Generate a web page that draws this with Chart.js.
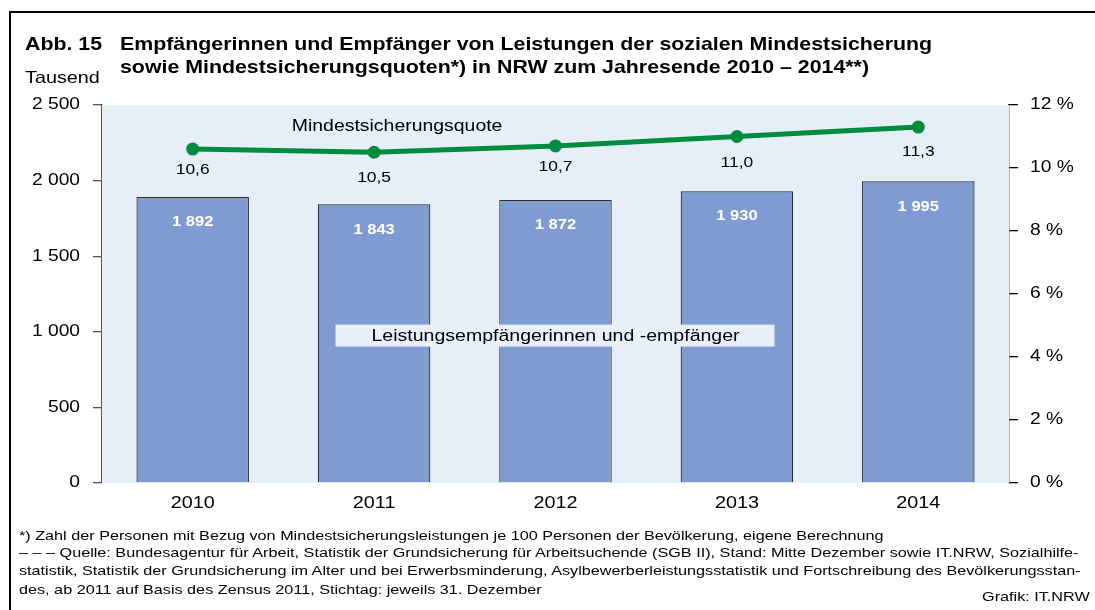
<!DOCTYPE html>
<html><head><meta charset="utf-8">
<script src="https://cdn.jsdelivr.net/npm/chart.js@4"></script>
<style>
html,body{margin:0;padding:0;background:#fff;}
#wrap{position:relative;width:1095px;height:610px;overflow:hidden;font-family:"Liberation Sans",Arial,sans-serif;color:#000;}
#frame{position:absolute;left:9px;top:11px;width:1100px;height:620px;border-left:2px solid #000;border-top:2px solid #000;}
#cv{position:absolute;left:0;top:0;}
.t{position:absolute;white-space:nowrap;transform:scaleX(1.2);transform-origin:0 50%;}
.title{font-weight:bold;font-size:17.8px;}
.foot{font-size:13.5px;line-height:16px;}
</style></head>
<body><div id="wrap">
<div id="frame"></div>
<canvas id="cv" width="1095" height="610"></canvas>
<div class="t title" style="left:25px;top:34px;">Abb. 15</div>
<div class="t title" style="left:120px;top:34px;">Empfängerinnen und Empfänger von Leistungen der sozialen Mindestsicherung</div>
<div class="t title" style="left:120px;top:57px;">sowie Mindestsicherungsquoten*) in NRW zum Jahresende 2010 – 2014**)</div>
<div class="t" style="left:25px;top:68px;font-size:16.5px;">Tausend</div>
<div class="t foot" style="left:19px;top:528px;">*) Zahl der Personen mit Bezug von Mindestsicherungsleistungen je 100 Personen der Bevölkerung, eigene Berechnung</div>
<div class="t foot" style="left:19px;top:545px;">– – – Quelle: Bundesagentur für Arbeit, Statistik der Grundsicherung für Arbeitsuchende (SGB II), Stand: Mitte Dezember sowie IT.NRW, Sozialhilfe-</div>
<div class="t foot" style="left:19px;top:563px;">statistik, Statistik der Grundsicherung im Alter und bei Erwerbsminderung, Asylbewerberleistungsstatistik und Fortschreibung des Bevölkerungsstan-</div>
<div class="t foot" style="left:19px;top:582px;">des, ab 2011 auf Basis des Zensus 2011, Stichtag: jeweils 31. Dezember</div>
<div class="t foot" style="right:5px;top:589px;transform-origin:100% 50%;">Grafik: IT.NRW</div>
</div>
<script>
const years = ['2010','2011','2012','2013','2014'];
const recipients = [1892, 1843, 1872, 1930, 1995];
const quota = [10.6, 10.5, 10.7, 11.0, 11.3];
const leftTicks = [0, 500, 1000, 1500, 2000, 2500];
const rightTicks = [0, 2, 4, 6, 8, 10, 12];

const FONT = '"Liberation Sans", Arial, sans-serif';
const SX = 1.2; // horizontal text stretch seen in the reference
const QUOTA_LABEL_GAP = [21, 26, 21, 26, 25]; // label offsets below points (style)
const fmtThousand = v => { const s = String(Math.round(v)); return s.length > 3 ? s.slice(0, s.length-3) + ' ' + s.slice(-3) : s; };
const fmtDec = v => v.toFixed(1).replace('.', ',');

const canvas = document.getElementById('cv');
const ctx0 = canvas.getContext('2d');
const origFill = CanvasRenderingContext2D.prototype.fillText;
ctx0.fillText = function(text, x, y) {
  this.save();
  this.translate(x, y);
  this.scale(SX, 1);
  origFill.call(this, text, 0, 0);
  this.restore();
};

const bgPlugin = {
  id: 'bg',
  beforeDatasetsDraw(chart) {
    const {ctx, chartArea: a} = chart;
    ctx.save();
    ctx.fillStyle = '#E6EEF8';
    ctx.fillRect(a.left, a.top, a.right - a.left, a.bottom - a.top);
    ctx.restore();
  }
};

const labelPlugin = {
  id: 'labels',
  afterDatasetsDraw(chart) {
    const {ctx} = chart;
    ctx.save();
    ctx.textAlign = 'center';
    ctx.textBaseline = 'middle';
    const barMeta = chart.getDatasetMeta(1);
    ctx.fillStyle = '#fff';
    ctx.font = 'bold 13.8px ' + FONT;
    barMeta.data.forEach((el, i) => {
      ctx.fillText(fmtThousand(recipients[i]), el.x, el.y + 25.5);
    });
    const lineMeta = chart.getDatasetMeta(0);
    ctx.fillStyle = '#000';
    ctx.font = '14.5px ' + FONT;
    lineMeta.data.forEach((el, i) => {
      ctx.fillText(fmtDec(quota[i]), el.x, el.y + QUOTA_LABEL_GAP[i]);
    });
    const xs = chart.scales.x, yr = chart.scales.y1, yl = chart.scales.y;
    ctx.font = '16.2px ' + FONT;
    ctx.fillText('Mindestsicherungsquote', (xs.getPixelForValue(0) + xs.getPixelForValue(2)) / 2 + 23, yr.getPixelForValue(11.32));
    const cx = xs.getPixelForValue(2), cy = yl.getPixelForValue(975);
    ctx.fillStyle = '#EAF0F9';
    ctx.fillRect(cx - 220, cy - 11, 439, 22);
    ctx.fillStyle = '#000';
    ctx.font = '16.3px ' + FONT;
    ctx.fillText('Leistungsempfängerinnen und -empfänger', cx, cy + 1);
    ctx.restore();
  }
};

new Chart(canvas, {
  data: {
    labels: years,
    datasets: [
      {
        type: 'line', label: 'Mindestsicherungsquote', data: quota, yAxisID: 'y1',
        borderColor: '#008C3E', backgroundColor: '#008C3E', borderWidth: 5,
        pointRadius: 6.5, pointHoverRadius: 6.5, pointBackgroundColor: '#008C3E', pointBorderWidth: 0,
        tension: 0, order: 0
      },
      {
        type: 'bar', label: 'Leistungsempfängerinnen und -empfänger', data: recipients, yAxisID: 'y',
        backgroundColor: '#7F9BD1', borderColor: '#2A2A2A', borderWidth: 1.2,
        categoryPercentage: 1, barPercentage: 0.62, order: 1
      }
    ]
  },
  options: {
    responsive: false, animation: false,
    devicePixelRatio: 1,
    layout: { padding: { top: 105, left: 0, right: 0, bottom: 0 } },
    plugins: { legend: { display: false }, tooltip: { enabled: false } },
    scales: {
      x: {
        grid: { display: false, drawTicks: false },
        border: { display: false },
        ticks: { color: '#000', font: { family: FONT, size: 16.5 }, padding: 11 },
        afterFit(s) { s.height = 127; }
      },
      y: {
        position: 'left', min: 0, max: 2500,
        afterBuildTicks(s) { s.ticks = leftTicks.map(v => ({ value: v })); },
        grid: { drawOnChartArea: false, tickLength: 9, color: '#555', lineWidth: 1.3 },
        border: { display: true, color: '#555', width: 1.5 },
        ticks: { color: '#000', font: { family: FONT, size: 16 }, padding: 13, callback: v => fmtThousand(v) },
        afterFit(s) { s.width = 102; }
      },
      y1: {
        position: 'right', min: 0, max: 12,
        afterBuildTicks(s) { s.ticks = rightTicks.map(v => ({ value: v })); },
        grid: { drawOnChartArea: false, tickLength: 9, color: '#000', lineWidth: 1.3 },
        border: { display: true, color: '#000', width: 1.3 },
        ticks: { color: '#000', font: { family: FONT, size: 16 }, padding: 12, callback: v => v + ' %' },
        afterFit(s) { s.width = 1095 - 1009; }
      }
    }
  },
  plugins: [bgPlugin, labelPlugin]
});
</script>
</body></html>
